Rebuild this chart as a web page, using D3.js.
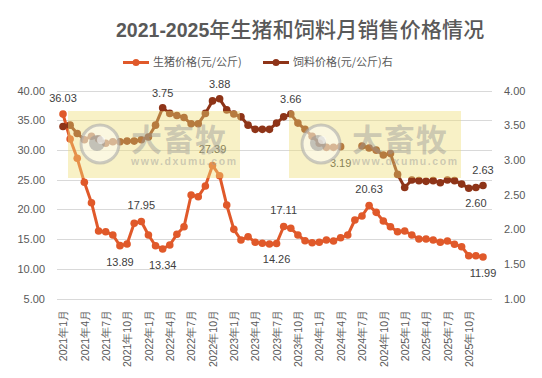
<!DOCTYPE html>
<html><head><meta charset="utf-8">
<script src="https://cdn.jsdelivr.net/npm/d3@7"></script>
<style>
html,body{margin:0;padding:0;background:#fff;}
svg{display:block;font-family:"Noto Sans CJK SC","Noto Sans",sans-serif;}
</style></head>
<body><svg id="c" width="542" height="378"></svg>
<script>
// ---- data ----
const months = [];
for (let y = 2021; y <= 2025; y++) for (let m = 1; m <= 12; m++) months.push(y + "年" + m + "月");
const pigPrice = [36.03,31.84,28.59,24.55,21.12,16.36,16.24,15.68,13.89,14.17,17.65,17.95,
  15.68,13.88,13.34,14.0,15.8,17.08,22.42,22.13,23.93,27.39,25.66,20.73,
  16.64,14.84,15.4,14.46,14.29,14.17,14.26,17.11,16.81,15.68,14.73,14.39,
  14.46,14.84,14.68,15.23,15.68,18.21,18.88,20.63,19.5,18.04,17.08,16.24,
  16.36,15.68,15.0,15.0,14.84,14.46,14.68,14.12,13.72,12.2,12.2,11.99];
const feedPrice = [3.48,3.50,3.38,3.29,3.34,3.30,3.24,3.26,3.26,3.27,3.27,3.29,
  3.33,3.50,3.75,3.67,3.64,3.61,3.52,3.52,3.67,3.85,3.88,3.72,
  3.66,3.62,3.50,3.44,3.44,3.44,3.53,3.62,3.66,3.53,3.44,3.34,
  3.24,3.18,3.18,3.19,null,null,3.20,3.17,3.14,3.07,3.09,2.79,
  2.60,2.71,2.70,2.69,2.70,2.67,2.71,2.70,2.65,2.59,2.60,2.63];
const leftTicks = [5,10,15,20,25,30,35,40];
const rightTicks = [1,1.5,2,2.5,3,3.5,4];
const xTickEvery = 3;
const pigLabelAbove = [0,11,21,31,43];
const pigLabelBelow = [8,14,30,59];
const feedLabelAbove = [14,22,32,59];
const feedLabelBelow = [39,58];
const seriesNames = ["生猪价格(元/公斤)","饲料价格(元/公斤)右"];
const titleNum = "2021-2025";
const titleText = "年生猪和饲料月销售价格情况";

// ---- styles ----
const pigColor = "#E0592A", feedColor = "#8E3418";
const textColor = "#595959", labelColor = "#404040", gridColor = "#D9D9D9";

const svg = d3.select("#c");
const x = d3.scalePoint().domain(months).range([63, 483]);
const yL = d3.scaleLinear().domain([5,40]).range([298.5, 90.5]);
const yR = d3.scaleLinear().domain([1,4]).range([298.5, 90.5]);

// title
const t = svg.append("text").attr("x",116).attr("y",37).attr("fill",textColor);
t.append("tspan").attr("font-size",19.5).attr("font-weight","bold").attr("font-family","'Liberation Sans','DejaVu Sans',sans-serif").text(titleNum);
t.append("tspan").attr("font-size",21).attr("font-weight",500).attr("textLength",275).attr("lengthAdjust","spacing").text(titleText);

// legend
const lg = [{x:123,c:pigColor,n:seriesNames[0]},{x:263,c:feedColor,n:seriesNames[1]}];
lg.forEach(d=>{
  svg.append("line").attr("x1",d.x).attr("x2",d.x+26).attr("y1",62.5).attr("y2",62.5).attr("stroke",d.c).attr("stroke-width",3);
  svg.append("circle").attr("cx",d.x+13).attr("cy",62.5).attr("r",3.5).attr("fill",d.c);
  svg.append("text").attr("x",d.x+30).attr("y",62.5).attr("dy","0.35em").attr("font-size",11).attr("fill",textColor).text(d.n);
});

// gridlines
svg.append("g").selectAll("line").data(leftTicks).join("line")
  .attr("x1",57).attr("x2",492).attr("y1",d=>Math.round(yL(d))+0.5).attr("y2",d=>Math.round(yL(d))+0.5)
  .attr("stroke",gridColor).attr("stroke-width",1);

// left axis
const axL = svg.append("g").attr("transform","translate(50,0)")
  .call(d3.axisLeft(yL).tickValues(leftTicks).tickFormat(d3.format(".2f")).tickSize(0).tickPadding(5));
axL.select(".domain").remove();
axL.selectAll("text").attr("font-size",11).attr("fill",textColor).attr("font-family","'Liberation Sans',sans-serif");

// right axis
const axR = svg.append("g").attr("transform","translate(499,0)")
  .call(d3.axisRight(yR).tickValues(rightTicks).tickFormat(d3.format(".2f")).tickSize(0).tickPadding(5));
axR.select(".domain").remove();
axR.selectAll("text").attr("font-size",11).attr("fill",textColor).attr("font-family","'Liberation Sans',sans-serif");

// x axis
const axX = svg.append("g").attr("transform","translate(0,305)")
  .call(d3.axisBottom(x).tickValues(months.filter((m,i)=>i%xTickEvery===0)).tickSize(0).tickPadding(0));
axX.select(".domain").remove();
axX.selectAll("text").attr("font-size",10.5).attr("fill",textColor)
  .attr("transform","rotate(-90)").attr("text-anchor","end").attr("x",-5).attr("y",0).attr("dy","0.35em");

// series
function drawSeries(vals, y, color){
  const pts = months.map((m,i)=>({m, v: vals[i]}));
  const line = d3.line().defined(d=>d.v!=null).x(d=>x(d.m)).y(d=>y(d.v));
  svg.append("path").datum(pts).attr("d",line).attr("fill","none").attr("stroke",color).attr("stroke-width",3).attr("stroke-linejoin","round");
  svg.append("g").selectAll("circle").data(pts.filter(d=>d.v!=null)).join("circle")
    .attr("cx",d=>x(d.m)).attr("cy",d=>y(d.v)).attr("r",3.8).attr("fill",color);
}
drawSeries(pigPrice, yL, pigColor);
drawSeries(feedPrice, yR, feedColor);

// data labels
function labels(vals, y, idx, off){
  svg.append("g").selectAll("text").data(idx).join("text")
    .attr("x",i=>x(months[i])).attr("y",i=>y(vals[i])+off).attr("dy","0.35em")
    .attr("text-anchor","middle").attr("font-size",11).attr("fill",labelColor)
    .attr("font-family","'Liberation Sans',sans-serif")
    .text(i=>d3.format(".2f")(vals[i]));
}
labels(pigPrice, yL, pigLabelAbove, -16);
labels(pigPrice, yL, pigLabelBelow, 16);
labels(feedPrice, yR, feedLabelAbove, -15);
labels(feedPrice, yR, feedLabelBelow, 16);

// watermark overlays
[68, 289].forEach(bx=>{
  const g = svg.append("g");
  g.append("rect").attr("x",bx).attr("y",111).attr("width",172).attr("height",67).attr("fill","rgb(238,222,120)").attr("opacity",0.42);
  g.append("circle").attr("cx",bx+32).attr("cy",144).attr("r",19).attr("fill","rgba(255,255,255,0.45)").attr("stroke","rgba(170,170,170,0.6)").attr("stroke-width",3);
  g.append("circle").attr("cx",bx+29).attr("cy",143).attr("r",8).attr("fill","rgba(150,150,150,0.55)");
  g.append("circle").attr("cx",bx+33).attr("cy",140).attr("r",4).attr("fill","rgba(255,255,255,0.55)");
  g.append("text").attr("x",bx+63).attr("y",151).attr("font-size",31).attr("font-weight","bold").attr("fill","rgba(150,150,150,0.45)").attr("letter-spacing",1).text("大畜牧");
  g.append("text").attr("x",bx+63).attr("y",165).attr("font-size",10.5).attr("font-weight","bold").attr("fill","rgba(150,150,150,0.45)").attr("letter-spacing",1.6).attr("font-family","'Liberation Sans',sans-serif").text("www.dxumu.com");
});
</script></body></html>
